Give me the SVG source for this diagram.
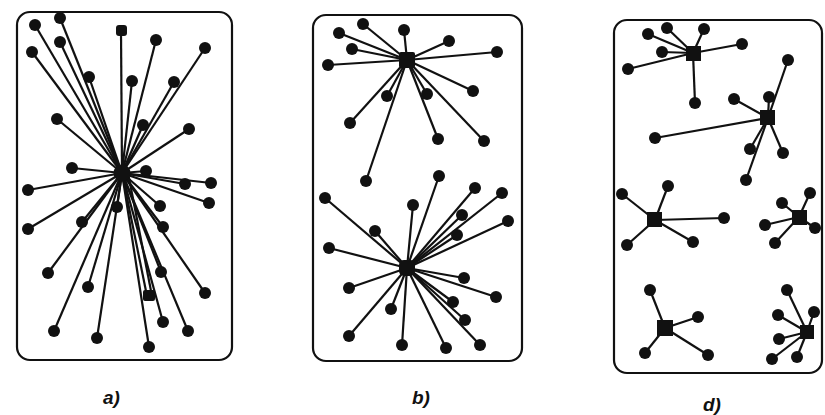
<svg xmlns="http://www.w3.org/2000/svg" width="825" height="415" viewBox="0 0 825 415">
<style>
.frame{fill:none;stroke:#111;stroke-width:2.2}
.e line{stroke:#111;stroke-width:2.2}
.n{fill:#111}
.hub{fill:#111}
.lbl{font-family:"Liberation Sans",Arial,sans-serif;font-weight:bold;font-style:italic;font-size:19px;fill:#111}
</style>
<rect width="825" height="415" fill="#fff"/>
<rect class="frame" x="17" y="12" width="215" height="348" rx="13"/>
<rect class="frame" x="313" y="15" width="209" height="346" rx="13"/>
<rect class="frame" x="614" y="20" width="208" height="353" rx="13"/>

<g id="connectors" class="e">
<line x1="122" y1="173" x2="35" y2="25"/><line x1="122" y1="173" x2="60" y2="18"/><line x1="122" y1="173" x2="60" y2="42"/><line x1="122" y1="173" x2="32" y2="52"/><line x1="122" y1="173" x2="121" y2="31"/><line x1="122" y1="173" x2="156" y2="40"/><line x1="122" y1="173" x2="205" y2="48"/><line x1="122" y1="173" x2="89" y2="77"/><line x1="122" y1="173" x2="132" y2="81"/><line x1="122" y1="173" x2="174" y2="82"/><line x1="122" y1="173" x2="57" y2="119"/><line x1="122" y1="173" x2="143" y2="125"/><line x1="122" y1="173" x2="189" y2="129"/><line x1="122" y1="173" x2="72" y2="168"/><line x1="122" y1="173" x2="146" y2="171"/><line x1="122" y1="173" x2="185" y2="184"/><line x1="122" y1="173" x2="211" y2="183"/><line x1="122" y1="173" x2="28" y2="190"/><line x1="122" y1="173" x2="209" y2="203"/><line x1="122" y1="173" x2="160" y2="206"/><line x1="122" y1="173" x2="117" y2="207"/><line x1="122" y1="173" x2="163" y2="227"/><line x1="122" y1="173" x2="82" y2="222"/><line x1="122" y1="173" x2="28" y2="229"/><line x1="122" y1="173" x2="48" y2="273"/><line x1="122" y1="173" x2="161" y2="272"/><line x1="122" y1="173" x2="88" y2="287"/><line x1="122" y1="173" x2="205" y2="293"/><line x1="122" y1="173" x2="147" y2="296"/><line x1="128" y1="173" x2="152" y2="296"/><line x1="122" y1="173" x2="54" y2="331"/><line x1="122" y1="173" x2="97" y2="338"/><line x1="122" y1="173" x2="163" y2="322"/><line x1="122" y1="173" x2="188" y2="331"/><line x1="122" y1="173" x2="149" y2="347"/>
<line x1="407" y1="60" x2="339" y2="33"/><line x1="407" y1="60" x2="363" y2="24"/><line x1="407" y1="60" x2="404" y2="30"/><line x1="407" y1="60" x2="449" y2="41"/><line x1="407" y1="60" x2="497" y2="52"/><line x1="407" y1="60" x2="352" y2="49"/><line x1="407" y1="60" x2="328" y2="65"/><line x1="407" y1="60" x2="387" y2="96"/><line x1="407" y1="60" x2="427" y2="94"/><line x1="407" y1="60" x2="473" y2="91"/><line x1="407" y1="60" x2="350" y2="123"/><line x1="407" y1="60" x2="438" y2="139"/><line x1="407" y1="60" x2="484" y2="141"/><line x1="407" y1="60" x2="366" y2="181"/>
<line x1="407" y1="268" x2="439" y2="176"/><line x1="407" y1="268" x2="475" y2="188"/><line x1="407" y1="268" x2="502" y2="193"/><line x1="407" y1="268" x2="413" y2="205"/><line x1="407" y1="268" x2="462" y2="215"/><line x1="407" y1="268" x2="508" y2="221"/><line x1="407" y1="268" x2="325" y2="198"/><line x1="407" y1="268" x2="375" y2="231"/><line x1="407" y1="268" x2="457" y2="235"/><line x1="407" y1="268" x2="329" y2="248"/><line x1="407" y1="268" x2="464" y2="278"/><line x1="407" y1="268" x2="496" y2="297"/><line x1="407" y1="268" x2="349" y2="288"/><line x1="407" y1="268" x2="391" y2="309"/><line x1="407" y1="268" x2="453" y2="302"/><line x1="407" y1="268" x2="465" y2="320"/><line x1="407" y1="268" x2="349" y2="336"/><line x1="407" y1="268" x2="402" y2="345"/><line x1="407" y1="268" x2="446" y2="348"/><line x1="407" y1="268" x2="480" y2="345"/>
<line x1="693" y1="53" x2="648" y2="34"/><line x1="693" y1="53" x2="667" y2="28"/><line x1="693" y1="53" x2="704" y2="29"/><line x1="693" y1="53" x2="742" y2="44"/><line x1="693" y1="53" x2="662" y2="52"/><line x1="693" y1="53" x2="628" y2="69"/><line x1="693" y1="53" x2="695" y2="103"/>
<line x1="768" y1="118" x2="788" y2="60"/><line x1="768" y1="118" x2="734" y2="99"/><line x1="768" y1="118" x2="769" y2="97"/><line x1="768" y1="118" x2="655" y2="138"/><line x1="768" y1="118" x2="750" y2="149"/><line x1="768" y1="118" x2="783" y2="153"/><line x1="768" y1="118" x2="746" y2="180"/>
<line x1="655" y1="220" x2="622" y2="194"/><line x1="655" y1="220" x2="668" y2="186"/><line x1="655" y1="220" x2="724" y2="218"/><line x1="655" y1="220" x2="627" y2="245"/><line x1="655" y1="220" x2="693" y2="242"/>
<line x1="799" y1="217" x2="810" y2="193"/><line x1="799" y1="217" x2="782" y2="203"/><line x1="799" y1="217" x2="765" y2="225"/><line x1="799" y1="217" x2="815" y2="228"/><line x1="799" y1="217" x2="775" y2="243"/>
<line x1="665" y1="328" x2="650" y2="290"/><line x1="665" y1="328" x2="698" y2="317"/><line x1="665" y1="328" x2="645" y2="353"/><line x1="665" y1="328" x2="708" y2="355"/>
<line x1="807" y1="332" x2="787" y2="290"/><line x1="807" y1="332" x2="814" y2="312"/><line x1="807" y1="332" x2="778" y2="315"/><line x1="807" y1="332" x2="779" y2="339"/><line x1="807" y1="332" x2="772" y2="359"/><line x1="807" y1="332" x2="797" y2="357"/>
</g>

<g id="hubA"><circle class="hub" cx="122" cy="173" r="8.5"/></g>
<g id="nodesA" class="n">
<circle cx="35" cy="25" r="6"/><circle cx="60" cy="18" r="6"/><circle cx="60" cy="42" r="6"/><circle cx="32" cy="52" r="6"/><rect x="116" y="25" width="11" height="11" rx="3"/><circle cx="156" cy="40" r="6"/><circle cx="205" cy="48" r="6"/><circle cx="89" cy="77" r="6"/><circle cx="132" cy="81" r="6"/><circle cx="174" cy="82" r="6"/><circle cx="57" cy="119" r="6"/><circle cx="143" cy="125" r="6"/><circle cx="189" cy="129" r="6"/><circle cx="72" cy="168" r="6"/><circle cx="146" cy="171" r="6"/><circle cx="185" cy="184" r="6"/><circle cx="211" cy="183" r="6"/><circle cx="28" cy="190" r="6"/><circle cx="209" cy="203" r="6"/><circle cx="160" cy="206" r="6"/><circle cx="117" cy="207" r="6"/><circle cx="163" cy="227" r="6"/><circle cx="82" cy="222" r="6"/><circle cx="28" cy="229" r="6"/><circle cx="48" cy="273" r="6"/><circle cx="161" cy="272" r="6"/><circle cx="88" cy="287" r="6"/><circle cx="205" cy="293" r="6"/><rect x="143" y="290" width="12" height="11" rx="2"/><circle cx="54" cy="331" r="6"/><circle cx="97" cy="338" r="6"/><circle cx="163" cy="322" r="6"/><circle cx="188" cy="331" r="6"/><circle cx="149" cy="347" r="6"/>
</g>

<g id="hubB1"><rect class="hub" x="399" y="52" width="16" height="16" rx="2"/></g>
<g id="nodesB1" class="n">
<circle cx="339" cy="33" r="6"/><circle cx="363" cy="24" r="6"/><circle cx="404" cy="30" r="6"/><circle cx="449" cy="41" r="6"/><circle cx="497" cy="52" r="6"/><circle cx="352" cy="49" r="6"/><circle cx="328" cy="65" r="6"/><circle cx="387" cy="96" r="6"/><circle cx="427" cy="94" r="6"/><circle cx="473" cy="91" r="6"/><circle cx="350" cy="123" r="6"/><circle cx="438" cy="139" r="6"/><circle cx="484" cy="141" r="6"/><circle cx="366" cy="181" r="6"/>
</g>
<g id="hubB2"><rect class="hub" x="399" y="260" width="16" height="16" rx="5"/></g>
<g id="nodesB2" class="n">
<circle cx="439" cy="176" r="6"/><circle cx="475" cy="188" r="6"/><circle cx="502" cy="193" r="6"/><circle cx="413" cy="205" r="6"/><circle cx="462" cy="215" r="6"/><circle cx="508" cy="221" r="6"/><circle cx="325" cy="198" r="6"/><circle cx="375" cy="231" r="6"/><circle cx="457" cy="235" r="6"/><circle cx="329" cy="248" r="6"/><circle cx="464" cy="278" r="6"/><circle cx="496" cy="297" r="6"/><circle cx="349" cy="288" r="6"/><circle cx="391" cy="309" r="6"/><circle cx="453" cy="302" r="6"/><circle cx="465" cy="320" r="6"/><circle cx="349" cy="336" r="6"/><circle cx="402" cy="345" r="6"/><circle cx="446" cy="348" r="6"/><circle cx="480" cy="345" r="6"/>
</g>

<g id="hubD1"><rect class="hub" x="686" y="46" width="15" height="15"/></g>
<g id="nodesD1" class="n"><circle cx="648" cy="34" r="6"/><circle cx="667" cy="28" r="6"/><circle cx="704" cy="29" r="6"/><circle cx="742" cy="44" r="6"/><circle cx="662" cy="52" r="6"/><circle cx="628" cy="69" r="6"/><circle cx="695" cy="103" r="6"/></g>
<g id="hubD2"><rect class="hub" x="760" y="110" width="15" height="15"/></g>
<g id="nodesD2" class="n"><circle cx="788" cy="60" r="6"/><circle cx="734" cy="99" r="6"/><circle cx="769" cy="97" r="6"/><circle cx="655" cy="138" r="6"/><circle cx="750" cy="149" r="6"/><circle cx="783" cy="153" r="6"/><circle cx="746" cy="180" r="6"/></g>
<g id="hubD3"><rect class="hub" x="647" y="212" width="15" height="15"/></g>
<g id="nodesD3" class="n"><circle cx="622" cy="194" r="6"/><circle cx="668" cy="186" r="6"/><circle cx="724" cy="218" r="6"/><circle cx="627" cy="245" r="6"/><circle cx="693" cy="242" r="6"/></g>
<g id="hubD4"><rect class="hub" x="792" y="210" width="15" height="15"/></g>
<g id="nodesD4" class="n"><circle cx="810" cy="193" r="6"/><circle cx="782" cy="203" r="6"/><circle cx="765" cy="225" r="6"/><circle cx="815" cy="228" r="6"/><circle cx="775" cy="243" r="6"/></g>
<g id="hubD5"><rect class="hub" x="657" y="320" width="16" height="16"/></g>
<g id="nodesD5" class="n"><circle cx="650" cy="290" r="6"/><circle cx="698" cy="317" r="6"/><circle cx="645" cy="353" r="6"/><circle cx="708" cy="355" r="6"/></g>
<g id="hubD6"><rect class="hub" x="800" y="325" width="14" height="14"/></g>
<g id="nodesD6" class="n"><circle cx="787" cy="290" r="6"/><circle cx="814" cy="312" r="6"/><circle cx="778" cy="315" r="6"/><circle cx="779" cy="339" r="6"/><circle cx="772" cy="359" r="6"/><circle cx="797" cy="357" r="6"/></g>

<text class="lbl" x="103" y="404">a)</text>
<text class="lbl" x="412" y="404">b)</text>
<text class="lbl" x="703" y="411">d)</text>
</svg>
